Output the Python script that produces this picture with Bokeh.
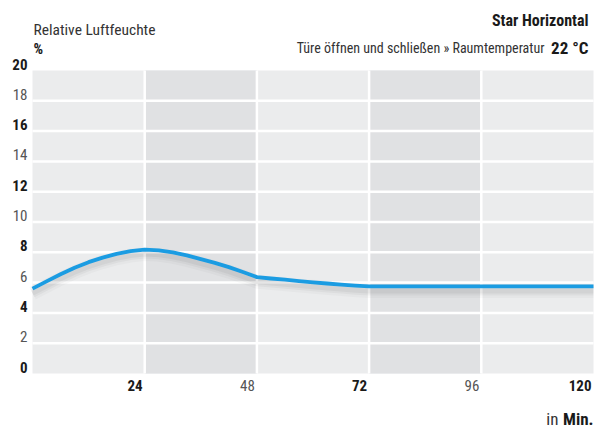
from bokeh.plotting import figure
from bokeh.models import Range1d
from bokeh.core.properties import value
from bokeh.embed import file_html
from bokeh.resources import INLINE

# ---- data ----
minutes = [0, 3, 6, 9, 12, 15, 18, 21, 24, 27, 30, 33, 36, 39, 42, 45, 48,
           51, 54, 57, 60, 63, 66, 69, 72, 84, 96, 108, 120]
humidity = [5.6, 6.08, 6.55, 6.98, 7.35, 7.65, 7.9, 8.08, 8.18, 8.13, 8.0, 7.8,
            7.55, 7.3, 7.02, 6.7, 6.36, 6.27, 6.19, 6.1, 6.02, 5.94, 5.87, 5.8,
            5.75, 5.75, 5.75, 5.75, 5.75]
band_starts = [24, 72]
band_ends = [48, 96]
y_ticks_bold = [0, 4, 8, 12, 16, 20]
y_ticks_light = [2, 6, 10, 14, 18]
x_ticks_bold = [24, 72, 120]
x_ticks_light = [48, 96]
title_text = "Star Horizontal"
subtitle_text = "Türe öffnen und schließen » Raumtemperatur"
subtitle_bold = "22 °C"
y_title = "Relative Luftfeuchte"
y_unit = "%"
x_unit_prefix = "in"
x_unit = "Min."

FONT = value("Roboto Condensed")
DARK = "#1a1a1a"
LIGHT = "#555555"

x_min, x_max = 0, 120
y_min, y_max = 0, 20

# layout (pixels inside the figure)
W, H = 602, 428
left_px, right_px, top_px, bottom_px = 32, 9, 70, 55
sx = (W - left_px - right_px) / (x_max - x_min)
sy = (H - top_px - bottom_px) / (y_max - y_min)

p = figure(width=W, height=H, output_backend="svg", toolbar_location=None,
           x_range=Range1d(x_min - left_px / sx, x_max + right_px / sx),
           y_range=Range1d(y_min - bottom_px / sy, y_max + top_px / sy),
           min_border=0)
p.axis.visible = False
p.grid.visible = False
p.outline_line_color = None
p.background_fill_color = "white"
p.border_fill_color = "white"

# plot area background
p.quad(left=[x_min], right=[x_max], bottom=[y_min], top=[y_max],
       fill_color="#ebeced", line_color=None)
# darker bands
p.quad(left=band_starts, right=band_ends, bottom=y_min, top=y_max,
       fill_color="#e0e1e3", line_color=None)

# white grid lines
all_x = [t for t in sorted(x_ticks_bold + x_ticks_light) if x_min < t < x_max]
all_y = [t for t in sorted(y_ticks_bold + y_ticks_light) if y_min < t < y_max]
p.segment(x0=all_x, y0=y_min, x1=all_x, y1=y_max, line_color="white", line_width=2.5)
p.segment(x0=x_min, y0=all_y, x1=x_max, y1=all_y, line_color="white", line_width=2.5)

# soft shadow below the line
shadow = [h - 0.3 for h in humidity]
for w, a in [(14, 0.025), (9, 0.035), (5, 0.045)]:
    p.line(minutes, shadow, line_width=w, line_color="black", line_alpha=a,
           line_join="round", line_cap="butt")

p.line(minutes, humidity, line_width=3.8, line_color="#1b9ce2",
       line_join="round", line_cap="butt")

# y tick labels
for ticks, style, col in [(y_ticks_bold, "bold", DARK), (y_ticks_light, "normal", LIGHT)]:
    p.text(x=[x_min] * len(ticks), y=ticks, text=[str(t) for t in ticks],
           text_align="right", text_baseline="bottom", x_offset=-5, y_offset=-1,
           text_font=FONT, text_font_size="15px", text_font_style=style,
           text_color=col)

# x tick labels
for ticks, style, col in [(x_ticks_bold, "bold", DARK), (x_ticks_light, "normal", LIGHT)]:
    p.text(x=ticks, y=[y_min] * len(ticks), text=[str(t) for t in ticks],
           text_align="right", text_baseline="top", x_offset=-2, y_offset=6,
           text_font=FONT, text_font_size="15px", text_font_style=style,
           text_color=col)

def label(x, y, txt, align, dx, dy, size, style, col):
    p.text(x=[x], y=[y], text=[txt], text_align=align, text_baseline="alphabetic",
           x_offset=dx, y_offset=dy, text_font=FONT, text_font_size=size,
           text_font_style=style, text_color=col)

label(x_max, y_max, title_text, "right", -5, -50, "16px", "bold", DARK)
label(x_max, y_max, subtitle_bold, "right", -5, -22.5, "17px", "bold", DARK)
label(x_max, y_max, subtitle_text, "right", -49, -22.5, "14px", "normal", "#333333")
label(x_min, y_max, y_title, "left", 1, -40.5, "15.5px", "normal", "#333333")
label(x_min, y_max, y_unit, "left", 1, -22, "15px", "bold", DARK)
label(x_max, y_min, x_unit, "right", 0, 45, "17px", "bold", DARK)
label(x_max, y_min, x_unit_prefix, "right", -35, 45, "17px", "normal", "#333333")

open("out.html", "w").write(file_html(p, INLINE))
